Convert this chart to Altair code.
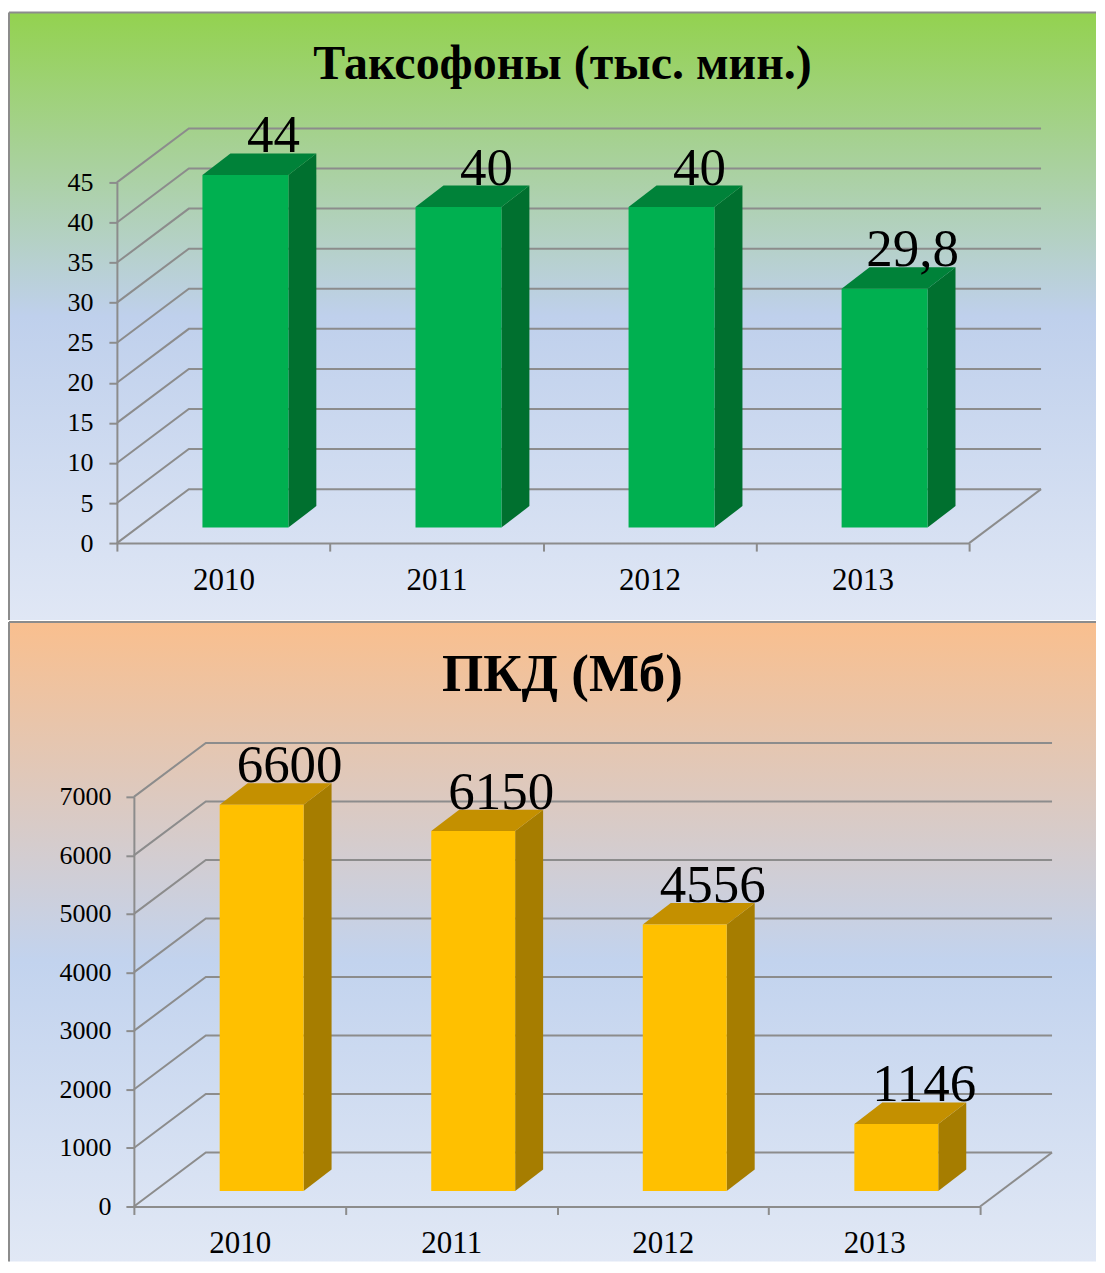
import altair as alt
import pandas as pd

years = ["2010", "2011", "2012", "2013"]
phones = [44, 40, 40, 29.8]
phone_labels = ["44", "40", "40", "29,8"]
pkd = [6600, 6150, 4556, 1146]
pkd_labels = ["6600", "6150", "4556", "1146"]
phone_ticks = [0, 5, 10, 15, 20, 25, 30, 35, 40, 45]
pkd_ticks = [0, 1000, 2000, 3000, 4000, 5000, 6000, 7000]

SERIF = "Liberation Serif"
GREY = "#8c8c8c"


def panel(title, title_size, values, labels, ticks, w, h, inset, frame, title_pos,
          stops, front, side, top, label_pad, bar_w):
    ymax = ticks[-1]
    n = len(years)
    span = w - inset
    px_x = n / span       # x units per pixel
    px_y = ymax / h       # value units per pixel
    wall_dx, wall_dy = 72 * px_x, 54 * px_y
    bar_dx, bar_dy = 28 * px_x, 21.5 * px_y
    shift_x, shift_y = 22 * px_x, 15.5 * px_y
    half = bar_w / 2 * px_x

    xq = lambda f: alt.X(f, type="quantitative", axis=None,
                         scale=alt.Scale(domain=[0, n], range=[inset, w], nice=False, zero=False))
    yq = lambda f: alt.Y(f, type="quantitative", stack=None, title=None,
                         scale=alt.Scale(domain=[0, ymax], nice=False, zero=False),
                         axis=alt.Axis(values=ticks, grid=False, tickSize=8, tickWidth=2,
                                       tickColor=GREY, domainColor=GREY, domainWidth=2,
                                       labelFont=SERIF, labelFontSize=26, labelColor="#000000",
                                       labelPadding=label_pad, zindex=1, format="d",
                                       offset=-inset))

    left, right, upper, lower = frame
    one = pd.DataFrame({"k": [0]})
    bg = alt.Chart(one).mark_rect(
        fill=alt.Gradient(gradient="linear", x1=0, y1=0, x2=0, y2=1,
                          stops=[alt.GradientStop(offset=o, color=c) for o, c in stops])
    ).encode(x=alt.value(left), x2=alt.value(right), y=alt.value(upper), y2=alt.value(lower))
    border_top = alt.Chart(one).mark_rule(color=GREY, strokeWidth=2).encode(
        x=alt.value(left), x2=alt.value(right), y=alt.value(upper))
    border_left = alt.Chart(one).mark_rule(color=GREY, strokeWidth=2).encode(
        x=alt.value(left), y=alt.value(upper), y2=alt.value(lower))
    title_m = alt.Chart(pd.DataFrame({"t": [title]})).mark_text(
        font=SERIF, fontSize=title_size, fontWeight="bold", color="#000000",
        baseline="alphabetic", align="center"
    ).encode(x=alt.value(title_pos[0]), y=alt.value(title_pos[1]), text="t:N")

    # grid running along the left wall and the back wall
    rows = []
    for t in ticks:
        rows += [dict(g=t, x=0, y=t), dict(g=t, x=wall_dx, y=t + wall_dy),
                 dict(g=t, x=n + wall_dx, y=t + wall_dy)]
    rows += [dict(g=-1, x=n, y=0), dict(g=-1, x=n + wall_dx, y=wall_dy)]
    wall = alt.Chart(pd.DataFrame(rows)).mark_line(color=GREY, strokeWidth=2).encode(
        x=xq("x"), y=yq("y"), detail="g:N", order="x:Q")

    fronts, sides, tops = [], [], []
    for i, v in enumerate(values):
        c = i + 0.5 + shift_x
        fronts.append(dict(x=c - half, x2=c + half, y=shift_y, y2=v + shift_y))
        sides += [dict(b=i, x=c + half, y=v + shift_y, y2=shift_y),
                  dict(b=i, x=c + half + bar_dx, y=v + shift_y + bar_dy, y2=shift_y + bar_dy)]
        tops += [dict(b=i, y=v + shift_y, x=c - half, x2=c + half),
                 dict(b=i, y=v + shift_y + bar_dy, x=c - half + bar_dx, x2=c + half + bar_dx)]

    front_m = alt.Chart(pd.DataFrame(fronts)).mark_rect(color=front).encode(
        x=xq("x"), x2="x2:Q", y=yq("y"), y2="y2:Q")
    side_m = alt.Chart(pd.DataFrame(sides)).mark_area(color=side, opacity=1).encode(
        x=xq("x"), y=yq("y"), y2="y2:Q", detail="b:N")
    top_m = alt.Chart(pd.DataFrame(tops)).mark_area(color=top, opacity=1, orient="horizontal").encode(
        y=yq("y"), x=xq("x"), x2="x2:Q", detail="b:N")

    text_df = pd.DataFrame({"year": years, "label": labels,
                            "y": [v + shift_y + bar_dy for v in values]})
    text_m = alt.Chart(text_df).mark_text(
        font=SERIF, fontSize=53, color="#000000", baseline="alphabetic", align="center", dx=50, dy=-1
    ).encode(
        x=alt.X("year:N", title=None, sort=years,
                scale=alt.Scale(paddingInner=0, paddingOuter=0, range=[inset, w]),
                axis=alt.Axis(labelAngle=0, tickBand="extent", tickSize=8, tickWidth=2, tickColor=GREY,
                              domainColor=GREY, domainWidth=2, labelFont=SERIF, labelFontSize=31,
                              labelColor="#000000", labelPadding=14, grid=False, zindex=1)),
        y=yq("y"), text="label:N")

    return alt.layer(bg, wall, side_m, top_m, front_m, text_m, title_m, border_top, border_left).resolve_scale(
        x="independent"
    ).properties(width=w, height=h)


top_panel = panel("Таксофоны (тыс. мин.)", 48, phones, phone_labels, phone_ticks, 853, 361, 0,
                  (-108, 980, -170, 438), (446, -104),
                  [(0, "#93D24F"), (0.5, "#BFD0EC"), (1, "#E0E7F5")],
                  "#00B050", "#00702F", "#008239", 16, 86)
bottom_panel = panel("ПКД (Мб)", 53, pkd, pkd_labels, pkd_ticks, 864, 410, 17,
                     (-108, 980, -175, 465), (446, -106),
                     [(0, "#F9BF8E"), (0.53, "#C2D3EE"), (1, "#E1E8F5")],
                     "#FFC000", "#A67D00", "#C49000", 15, 84)

chart = alt.concat(top_panel, bottom_panel, columns=1, spacing=0, align="none").properties(
    padding={"left": 0, "top": 3, "right": 0, "bottom": 0}, background="#ffffff"
).configure_view(stroke=None)

chart.save("out.html", embed_options={"renderer": "svg", "actions": False})
